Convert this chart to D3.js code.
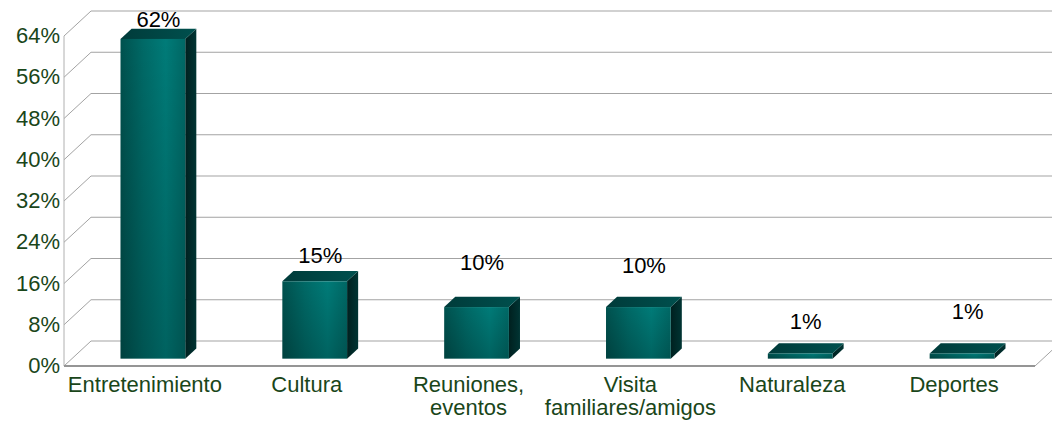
<!DOCTYPE html>
<html>
<head>
<meta charset="utf-8">
<script src="https://cdn.jsdelivr.net/npm/d3@7"></script>
<style>
  body { margin: 0; background: #fff; }
  text { font-family: "Liberation Sans", Arial, sans-serif; }
</style>
</head>
<body>
<div id="chart"></div>
<script>
// data
var categories = ["Entretenimiento", "Cultura", "Reuniones, eventos", "Visita familiares/amigos", "Naturaleza", "Deportes"];
var categoryLines = [["Entretenimiento"], ["Cultura"], ["Reuniones,", "eventos"], ["Visita", "familiares/amigos"], ["Naturaleza"], ["Deportes"]];
var values = [62, 15, 10, 10, 1, 1];
var valueLabels = ["62%", "15%", "10%", "10%", "1%", "1%"];
var yTicks = [0, 8, 16, 24, 32, 40, 48, 56, 64];

function init() {
    var w = 1052, h = 425;
    var left = 64, right = 1035, floorY = 366; // front plane
    var depthX = 27, depthY = 25;                // 3d depth of the wall
    var plotH = 330;

    var svg = d3.select("#chart").append("svg")
        .attr("width", w)
        .attr("height", h);

    var defs = svg.append("defs");
    var gFront = defs.append("linearGradient").attr("id", "front")
        .attr("x1", "0").attr("x2", "1").attr("y1", "0").attr("y2", "0");
    gFront.append("stop").attr("offset", "0").attr("stop-color", "#00514e");
    gFront.append("stop").attr("offset", "0.35").attr("stop-color", "#006966");
    gFront.append("stop").attr("offset", "0.7").attr("stop-color", "#007b78");
    gFront.append("stop").attr("offset", "1").attr("stop-color", "#006764");
    var gShade = defs.append("linearGradient").attr("id", "shade")
        .attr("x1", "0").attr("x2", "0").attr("y1", "0").attr("y2", "1");
    gShade.append("stop").attr("offset", "0").attr("stop-color", "#000").attr("stop-opacity", 0);
    gShade.append("stop").attr("offset", "1").attr("stop-color", "#000").attr("stop-opacity", 0.2);
    var gTop = defs.append("linearGradient").attr("id", "topface")
        .attr("x1", "0").attr("x2", "1").attr("y1", "0").attr("y2", "0");
    gTop.append("stop").attr("offset", "0").attr("stop-color", "#003b3a");
    gTop.append("stop").attr("offset", "1").attr("stop-color", "#00504e");
    var gSide = defs.append("linearGradient").attr("id", "side")
        .attr("x1", "0").attr("x2", "1").attr("y1", "0").attr("y2", "0");
    gSide.append("stop").attr("offset", "0").attr("stop-color", "#00201f");
    gSide.append("stop").attr("offset", "1").attr("stop-color", "#003433");

    var x = d3.scaleBand()
        .domain(categories)
        .range([left, right]);

    var y = d3.scaleLinear()
        .domain([0, 64])
        .range([0, plotH]);

    // back wall gridlines
    svg.append("g").selectAll("line")
        .data(yTicks)
        .join("line")
        .attr("x1", left + depthX)
        .attr("x2", right + depthX)
        .attr("y1", d => floorY - depthY - y(d))
        .attr("y2", d => floorY - depthY - y(d))
        .attr("stroke", "#a3a3a3")
        .attr("stroke-width", 1);

    // side wall slants
    svg.append("g").selectAll("line")
        .data(yTicks)
        .join("line")
        .attr("x1", left)
        .attr("x2", left + depthX)
        .attr("y1", d => floorY - y(d))
        .attr("y2", d => floorY - depthY - y(d))
        .attr("stroke", "#a3a3a3")
        .attr("stroke-width", 1);

    // left axis line
    svg.append("line")
        .attr("x1", left).attr("x2", left)
        .attr("y1", floorY - y(64)).attr("y2", floorY)
        .attr("stroke", "#b0b0b0");

    // floor
    svg.append("line")
        .attr("x1", left).attr("x2", right)
        .attr("y1", floorY).attr("y2", floorY)
        .attr("stroke", "#959595").attr("stroke-width", 2);
    svg.append("line")
        .attr("x1", right).attr("x2", right + depthX)
        .attr("y1", floorY).attr("y2", floorY - depthY)
        .attr("stroke", "#a3a3a3");

    // bars
    var bw = x.bandwidth() * 0.4;
    var offX = depthX * 0.295, offY = depthY * 0.295;
    var bdx = depthX * 0.41, bdy = depthY * 0.41;

    var bars = svg.append("g").selectAll("g")
        .data(values)
        .join("g");

    bars.each(function (v, i) {
        var g = d3.select(this);
        var x0 = x(categories[i]) + x.bandwidth() / 2 - bw / 2 + offX;
        var base = floorY - offY;
        var top = base - y(v);
        // side face
        g.append("path")
            .attr("d", "M" + (x0 + bw) + "," + top + "L" + (x0 + bw + bdx) + "," + (top - bdy) +
                "L" + (x0 + bw + bdx) + "," + (base - bdy) + "L" + (x0 + bw) + "," + base + "Z")
            .attr("fill", "url(#side)");
        // top face
        g.append("path")
            .attr("d", "M" + x0 + "," + top + "L" + (x0 + bdx) + "," + (top - bdy) +
                "L" + (x0 + bw + bdx) + "," + (top - bdy) + "L" + (x0 + bw) + "," + top + "Z")
            .attr("fill", "url(#topface)");
        // front face
        g.append("rect")
            .attr("x", x0).attr("y", top)
            .attr("width", bw).attr("height", base - top)
            .attr("fill", "url(#front)");
        g.append("rect")
            .attr("x", x0).attr("y", top)
            .attr("width", bw).attr("height", base - top)
            .attr("fill", "url(#shade)");
    });

    // value labels (nudged like the original placement)
    var labelLift = [12, 18, 37, 34, 24, 34];
    svg.append("g").selectAll("text")
        .data(values)
        .join("text")
        .attr("x", (d, i) => x(categories[i]) + x.bandwidth() / 2 + offX + bdx / 2)
        .attr("y", (d, i) => floorY - offY - y(d) - labelLift[i])
        .attr("text-anchor", "middle")
        .attr("font-size", "22px")
        .attr("fill", "#000")
        .text((d, i) => valueLabels[i]);

    // y axis labels
    svg.append("g").selectAll("text")
        .data(yTicks)
        .join("text")
        .attr("x", left - 4)
        .attr("y", d => floorY - y(d) + 7)
        .attr("text-anchor", "end")
        .attr("font-size", "22px")
        .attr("fill", "#1a461a")
        .text(d => d + "%");

    // category labels
    var cat = svg.append("g").selectAll("text")
        .data(categoryLines)
        .join("text")
        .attr("text-anchor", "middle")
        .attr("font-size", "22px")
        .attr("fill", "#1a461a");
    cat.selectAll("tspan")
        .data((d, i) => d.map(s => ({ s: s, i: i })))
        .join("tspan")
        .attr("x", d => x(categories[d.i]) + x.bandwidth() / 2)
        .attr("y", (d, j) => 392 + j * 23)
        .text(d => d.s);
}

window.onload = init;
</script>
</body>
</html>
